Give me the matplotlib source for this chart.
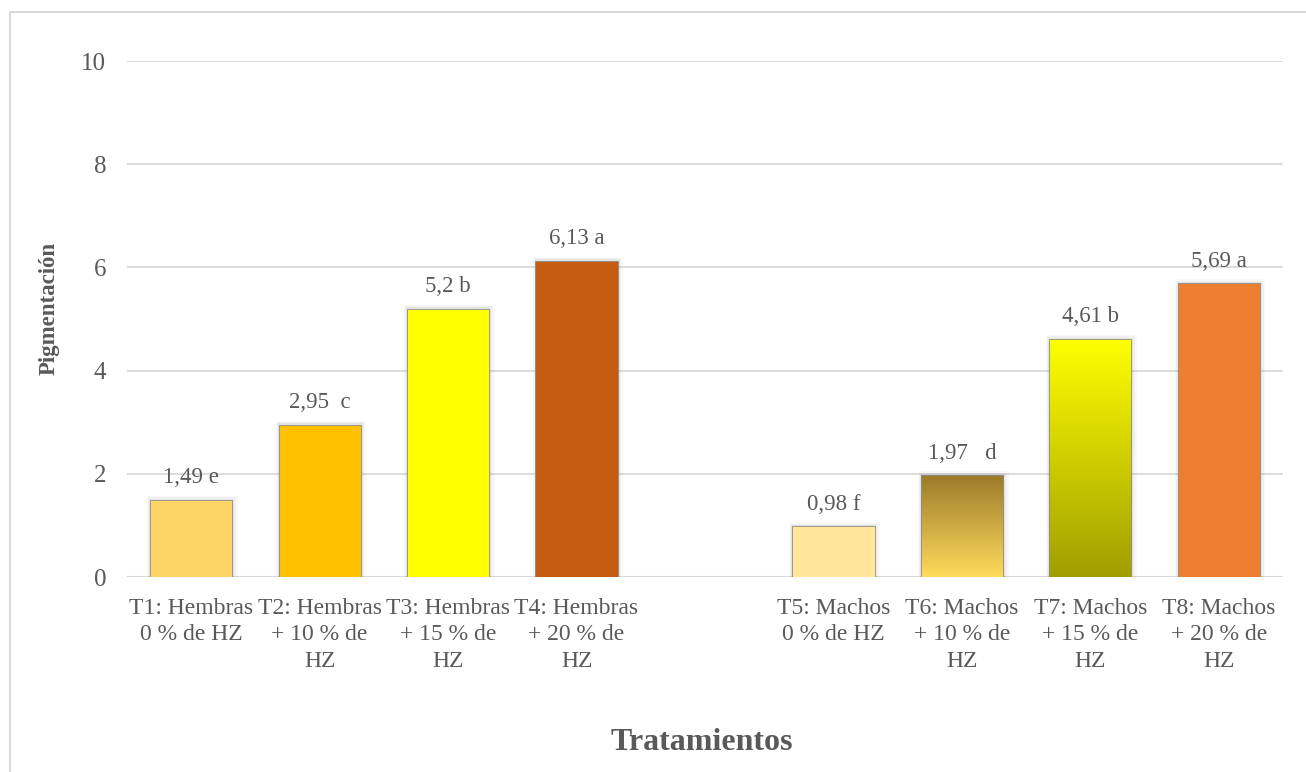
import matplotlib
matplotlib.use("Agg")
import matplotlib.pyplot as plt
import numpy as np
from matplotlib.patches import Rectangle
from matplotlib.colors import LinearSegmentedColormap

plt.rcParams['font.family'] = ['Liberation Serif', 'DejaVu Serif']

# Data
categories = [
    "T1: Hembras\n0 % de HZ",
    "T2: Hembras\n+ 10 % de\nHZ",
    "T3: Hembras\n+ 15 % de\nHZ",
    "T4: Hembras\n+ 20 % de\nHZ",
    "",
    "T5: Machos\n0 % de HZ",
    "T6: Machos\n+ 10 % de\nHZ",
    "T7: Machos\n+ 15 % de\nHZ",
    "T8: Machos\n+ 20 % de\nHZ",
]
values = [1.49, 2.95, 5.2, 6.13, None, 0.98, 1.97, 4.61, 5.69]
value_labels = ["1,49 e", "2,95  c", "5,2 b", "6,13 a", "",
                "0,98 f", "1,97   d", "4,61 b", "5,69 a"]
# solid colours; gradient bars given as (top, bottom)
bar_colors = ["#FDD466", "#FFC000", "#FFFF00", "#C55A11", None,
              "#FFE699", ("#9C7A2A", "#FFDB5C"), ("#FFFF00", "#A09E00"), "#ED7D31"]

TEXT = "#595959"
GRID = "#D9D9D9"

fig = plt.figure(figsize=(13.06, 7.72), dpi=100)
W, H = 1306, 772

# chart-area border
fig.patches.append(Rectangle((10 / W, -0.05), 1.2, 1 - 12 / H + 0.05,
                             transform=fig.transFigure, fill=False,
                             edgecolor="#D9D9D9", linewidth=1.5))

ax = fig.add_axes([127 / W, 195 / H, (1283 - 127) / W, (711 - 195) / H])
ax.set_yticks(np.arange(0, 11, 2))
ax.yaxis.grid(True, color=GRID, linewidth=1.3)
ax.set_axisbelow(True)
for s in ax.spines.values():
    s.set_visible(False)
ax.axhline(0, color=GRID, linewidth=1.5, zorder=1)
ax.tick_params(axis="both", length=0, labelcolor=TEXT)
ax.tick_params(axis="y", pad=15, labelsize=18)
ax.set_xticks(range(len(categories)))
ax.set_xticklabels(categories, fontsize=17, color=TEXT, linespacing=1.34)
ax.tick_params(axis="x", pad=15)

bw = 0.64
for i, (v, c, lab) in enumerate(zip(values, bar_colors, value_labels)):
    if v is None:
        continue
    # soft shadow
    for k, a in enumerate([0.10, 0.07, 0.04]):
        d = 0.012 + k * 0.012
        ax.add_patch(Rectangle((i - bw / 2 - d * 0.6, 0), bw + 2 * d * 0.9, v + d * 2.2,
                               facecolor="#7F7F7F", alpha=a, edgecolor="none", zorder=2))
    if isinstance(c, tuple):
        rect = ax.bar(i, v, width=bw, color="none", edgecolor="#8C8C8C",
                      linewidth=0.6, zorder=4)[0]
        cmap = LinearSegmentedColormap.from_list("g", [c[1], c[0]])
        grad = np.linspace(0, 1, 256).reshape(-1, 1)
        im = ax.imshow(grad, cmap=cmap, origin="lower", aspect="auto",
                       extent=(i - bw / 2, i + bw / 2, 0, v), zorder=3)
        im.set_clip_path(rect)
    else:
        ax.bar(i, v, width=bw, color=c, edgecolor="#8C8C8C", linewidth=0.6, zorder=3)
    ax.annotate(lab, (i, v), xytext=(0, 16), textcoords="offset points",
                ha="center", va="center", fontsize=16.5, color=TEXT)

ax.set_xlim(-0.5, len(categories) - 0.5)
ax.set_ylim(0, 10)

fig.text(49 / W, 1 - 308 / H, "Pigmentación", rotation=90, ha="center", va="center",
         fontsize=16.5, fontweight="bold", color=TEXT)
fig.text(702 / W, 1 - 742 / H, "Tratamientos", ha="center", va="center",
         fontsize=23, fontweight="bold", color=TEXT)

fig.savefig("out.png", dpi=100)
